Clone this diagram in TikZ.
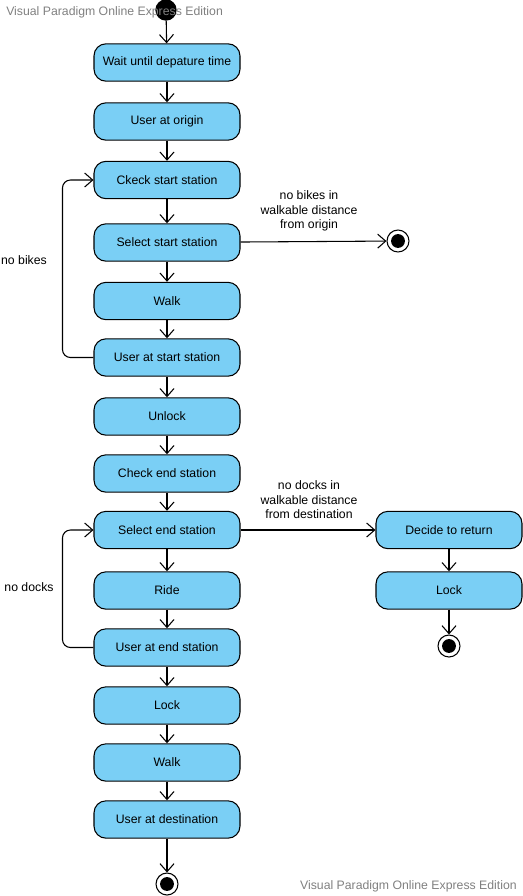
\documentclass[tikz,border=0pt]{standalone}
\usepackage{fontspec}
\setmainfont{Liberation Sans}
\usetikzlibrary{arrows.meta}
\definecolor{actfill}{RGB}{122,207,245}
\definecolor{markgray}{RGB}{128,128,128}
\begin{document}
\begin{tikzpicture}[x=0.75pt,y=-0.75pt,
  font=\fontsize{9.2}{10.8}\selectfont,
  action/.style={draw=black,line width=0.8pt,fill=actfill,rounded corners=9pt,
    minimum width=109.5pt,minimum height=28pt,inner sep=0pt},
  flow/.style={draw=black,line width=0.8pt,-{Straight Barb[length=6pt,width=10.5pt,line width=0.8pt]}},
  loopflow/.style={flow,rounded corners=6pt},
  guard/.style={align=center,inner sep=0pt},
  initstate/.style={circle,fill=black,minimum size=16pt,inner sep=0pt},
  finalstate/.style={circle,draw=black,line width=0.8pt,fill=white,minimum size=16.5pt,inner sep=0pt,
    path picture={\fill[black] (path picture bounding box.center) circle (5.2pt);}},
  watermark/.style={text=markgray,font=\fontsize{9.2}{10.8}\selectfont,inner sep=0pt}]
\useasboundingbox (0,0) rectangle (522,896);

% main flow
\node[initstate] (init) at (166,10) {};
\node[action] (wait)   at (167,62.5)  {Wait until depature time};
\node[action] (orig)   at (167,121.5) {User at origin};
\node[action] (chks)   at (167,180) {Ckeck start station};
\node[action] (sels)   at (167,242.5) {Select start station};
\node[action] (walk1)  at (167,301) {Walk};
\node[action] (atss)   at (167,357.5) {User at start station};
\node[action] (unlock) at (167,416.5) {Unlock};
\node[action] (chke)   at (167,473.5) {Check end station};
\node[action] (sele)   at (167,530) {Select end station};
\node[action] (ride)   at (167,590.5) {Ride};
\node[action] (atse)   at (167,647.5) {User at end station};
\node[action] (lock1)  at (167,705.5) {Lock};
\node[action] (walk2)  at (167,762.5) {Walk};
\node[action] (dest)   at (167,819.5) {User at destination};
\node[finalstate] (fin1) at (167,884) {};

% side branches
\node[finalstate] (fin0) at (398,241) {};
\node[action] (ret)   at (449,530) {Decide to return};
\node[action] (lock2) at (449,590.5) {Lock};
\node[finalstate] (fin2) at (449,646) {};

% straight transitions
\foreach \a/\b in {init/wait,wait/orig,orig/chks,chks/sels,sels/walk1,walk1/atss,
  atss/unlock,unlock/chke,chke/sele,sele/ride,ride/atse,atse/lock1,lock1/walk2,
  walk2/dest,dest/fin1,ret/lock2,lock2/fin2}
  \draw[flow] (\a) -- (\b);

\draw[flow] (sels) -- (fin0);
\draw[flow] (sele) -- (ret);

% loops back
\draw[loopflow] (atss.west) -- ++(-31,0) |- (chks.west);
\draw[loopflow] (atse.west) -- ++(-31,0) |- (sele.west);

% guards
\node[guard] at (309,211) {no bikes in\\walkable distance\\from origin};
\node[guard] at (309,500) {no docks in\\walkable distance\\from destination};
\node[guard] at (24,260) {no bikes};
\node[guard] at (29,587) {no docks};

% edition marks
\node[watermark,anchor=west] at (6,12) {Visual Paradigm Online Express Edition};
\node[watermark,anchor=east] at (517,886) {Visual Paradigm Online Express Edition};
\end{tikzpicture}
\end{document}
